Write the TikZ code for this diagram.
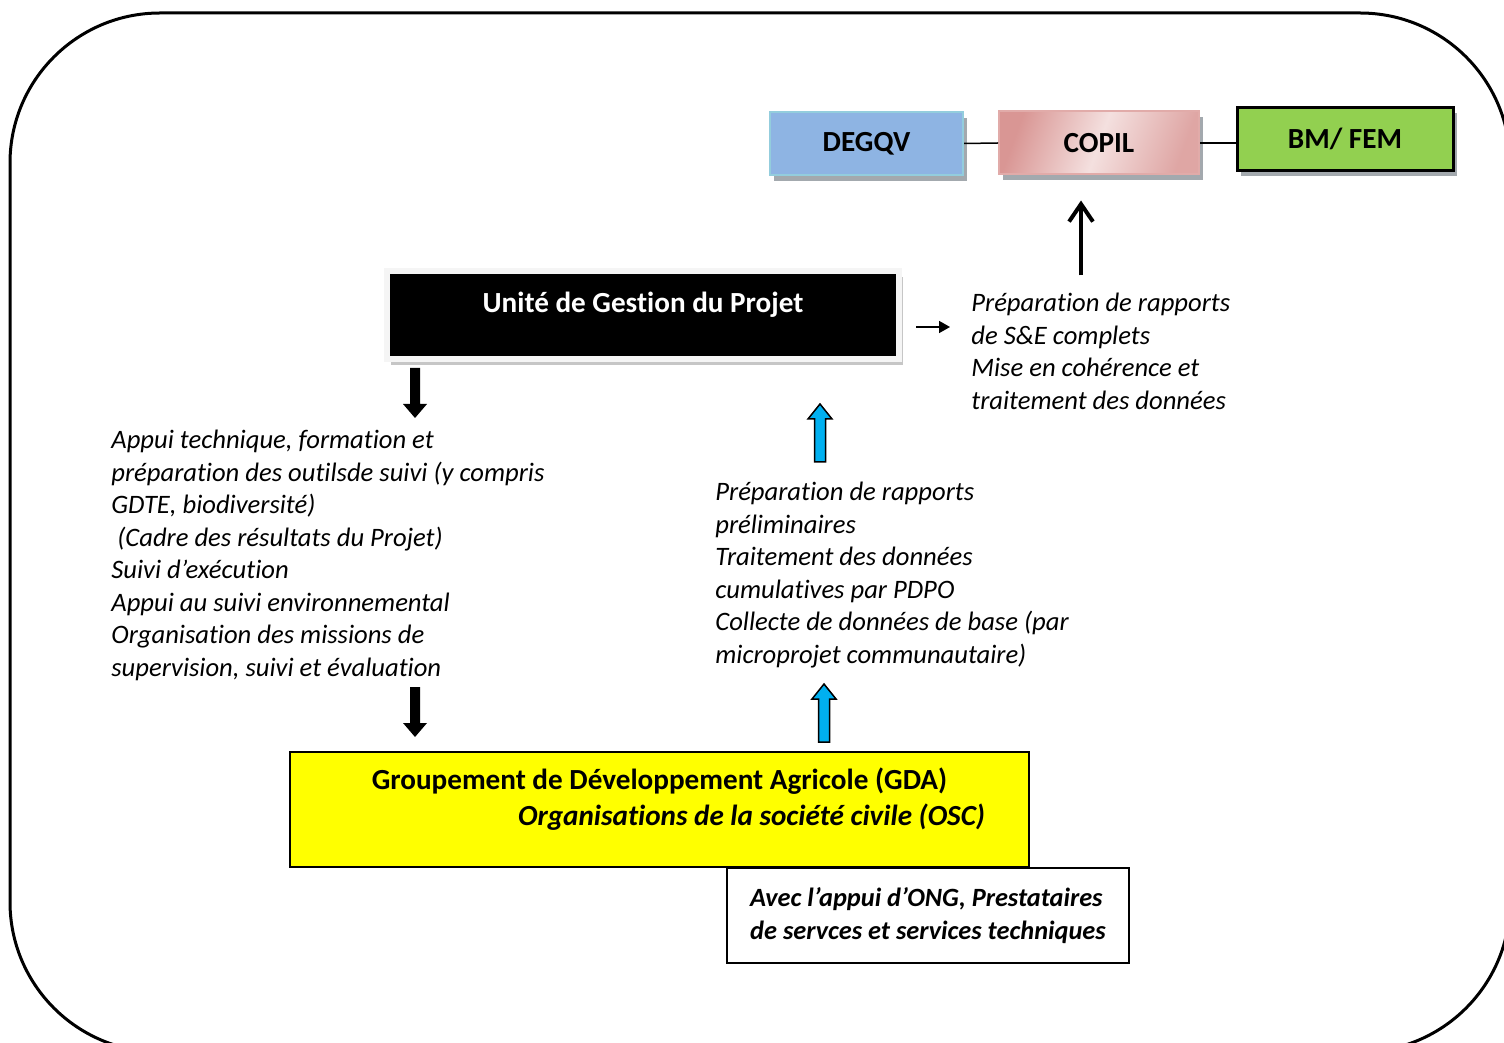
\documentclass[tikz,border=0pt]{standalone}
\usepackage{fontspec}
\setmainfont{Carlito}[Ligatures=NoCommon]
\usepackage{tikz}
\usetikzlibrary{calc,positioning,shadows,arrows.meta}
\newlength{\unitpx}
\setlength{\unitpx}{0.02cm}
\definecolor{degqvBlue}{HTML}{8EB4E3}
\definecolor{degqvEdge}{HTML}{93CDDD}
\definecolor{copilLight}{HTML}{F4E0DF}
\definecolor{copilDark}{HTML}{D99694}
\definecolor{femGreen}{HTML}{92D050}
\definecolor{gdaYellow}{HTML}{FFFF00}
\definecolor{flowBlue}{HTML}{00B0F0}
\definecolor{shadowGrey}{HTML}{A3A9AE}
\tikzset{
  frame/.style={draw, line width=3\unitpx, rounded corners=150\unitpx},
  head/.style={font=\fontsize{16.6}{20.3}\selectfont\bfseries, text centered, inner sep=0pt},
  topbox/.style={head, minimum height=63\unitpx, line width=2\unitpx,
    drop shadow={shadow xshift=4\unitpx, shadow yshift=-6\unitpx, fill=shadowGrey, opacity=1}},
  ugpbox/.style={head, text=white, fill=black, draw=gray!8, line width=6\unitpx,
    minimum width=512\unitpx, minimum height=88\unitpx, text height=11pt, text depth=14.4pt,
    drop shadow={shadow xshift=4\unitpx, shadow yshift=-6\unitpx, fill=gray!45, opacity=1}},
  note/.style={font=\fontsize{15.15}{18.5}\selectfont\itshape, align=left, inner sep=0pt, anchor=north west},
  gdabox/.style={head, draw, fill=gdaYellow, line width=1.5\unitpx, align=center,
    minimum width=739\unitpx, minimum height=115\unitpx},
  ongbox/.style={draw, fill=white, line width=1.5\unitpx, align=left,
    font=\fontsize{15}{18.5}\selectfont\bfseries\itshape, minimum width=402\unitpx, minimum height=95\unitpx},
  link/.style={line width=1.5\unitpx},
  thinarrow/.style={line width=1.5\unitpx, -{Triangle[length=6.2pt,width=6.8pt]}},
  bigarrow/.style={line width=4\unitpx, -{Straight Barb[length=10pt,width=13.6pt]}},
  upblock/.pic={\path[pic actions] (0,0) -- (12,15) -- (5.5,15) -- (5.5,58) -- (-5.5,58) -- (-5.5,15) -- (-12,15) -- cycle;},
  downblock/.pic={\path[pic actions] (0,0) -- (12,-14) -- (5,-14) -- (5,-50) -- (-5,-50) -- (-5,-14) -- (-12,-14) -- cycle;}
}

\begin{document}
\begin{tikzpicture}[x=0.02cm, y=-0.02cm]
\useasboundingbox (0,0) rectangle (1504,1043);
\clip (0,0) rectangle (1504,1043);
\draw[frame] (10,13) rectangle (1510,1052);

% instances de pilotage
\node[topbox, fill=degqvBlue, draw=degqvEdge, minimum width=193\unitpx] (degqv) at (866.5,143.5) {DEGQV};
\node[topbox, draw=copilDark!80, left color=copilDark, right color=copilDark!85, middle color=copilLight,
  shading angle=70, minimum width=200\unitpx] (copil) at (1099,143) {COPIL};
\node[topbox, fill=femGreen, draw=black, line width=3\unitpx, minimum width=216\unitpx] (fem) at (1345,139) {BM/ FEM};
\draw[link] (degqv.east) -- (copil.west);
\draw[link] (copil.east) -- (copil.east -| fem.west);

% UGP
\node[ugpbox] (ugp) at (643,315) {Unité de Gestion du Projet};
\node[note] (seText) at (971,293) {Préparation de rapports\\de S\&E complets\\Mise en cohérence et\\traitement des données};
\draw[thinarrow] ($(ugp.east)+(14,12)$) -- ($(ugp.east)+(48,12)$);
\draw[bigarrow] ($(copil.south)+(-18,100)$) -- ($(copil.south)+(-18,25)$);

% flux descendant / montant
\node[note] (appui) at (111,430) {Appui technique, formation et\\préparation des outilsde suivi (y compris\\GDTE, biodiversité)\\~(Cadre des résultats du Projet)\\Suivi d’exécution\\Appui au suivi environnemental\\Organisation des missions de\\supervision, suivi et évaluation};
\node[note] (prelim) at (715,482) {Préparation de rapports\\préliminaires\\Traitement des données\\cumulatives par PDPO\\Collecte de données de base (par\\microprojet communautaire)};
\pic[fill=black] at (415,418) {downblock};
\pic[fill=black] at (415,737) {downblock};
\pic[fill=flowBlue, draw=black, line width=1.5\unitpx] at (820,404) {upblock};
\pic[fill=flowBlue, draw=black, line width=1.5\unitpx] at (824,684) {upblock};

% GDA / OSC
\node[gdabox] (gda) at (659.5,809.5) {Groupement de Développement Agricole (GDA)\\\hspace*{184\unitpx}\itshape Organisations de la société civile (OSC)\\[-6pt]\mbox{}};
\node[ongbox] (ong) at (928,915.5) {Avec l’appui d’ONG, Prestataires\\de servces et services techniques};
\end{tikzpicture}
\end{document}
